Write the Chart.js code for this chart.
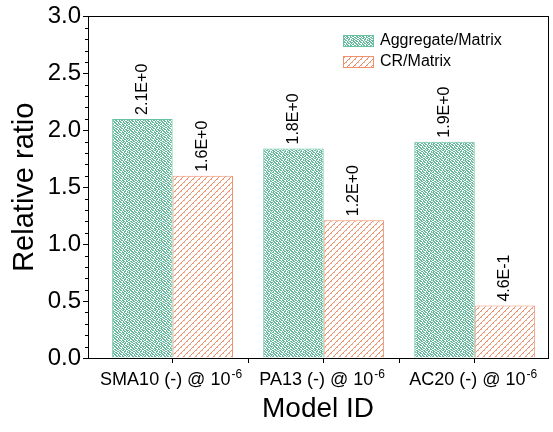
<!DOCTYPE html>
<html>
<head>
<meta charset="utf-8">
<script src="https://cdn.jsdelivr.net/npm/chart.js@4.4.0/dist/chart.umd.min.js"></script>
<style>
  html, body { margin: 0; padding: 0; background: #fff; }
  #wrap { width: 553px; height: 432px; }
</style>
</head>
<body>
<div id="wrap"><canvas id="myChart" width="553" height="432"></canvas></div>
<script>
// chart values
const categories = ['SMA10 (-) @ 10', 'PA13 (-) @ 10', 'AC20 (-) @ 10'];
const categorySup = ['-6', '-6', '-6'];
const categoryPos = [1, 2, 3];
const aggregateValues = [2.10, 1.84, 1.90];
const crValues = [1.60, 1.21, 0.46];
const aggregateLabels = ['2.1E+0', '1.8E+0', '1.9E+0'];
const crLabels = ['1.6E+0', '1.2E+0', '4.6E-1'];
const seriesNames = ['Aggregate/Matrix', 'CR/Matrix'];
const yTickValues = [0, 0.5, 1.0, 1.5, 2.0, 2.5, 3.0];
const xMinorTicks = [1.5, 2.5];

const FONT = "'Liberation Sans', Arial, sans-serif";

// speckled green fill
function makeGreenPattern() {
    const c = document.createElement('canvas');
    c.width = 16; c.height = 8;
    const g = c.getContext('2d');
    g.fillStyle = '#ffffff';
    g.fillRect(0, 0, 16, 8);
    const mask = [
        '1101100101101001',
        '0110110110010110',
        '1011001011011011',
        '0101101100101101',
        '1100110110110010',
        '0011011001011011',
        '1101100110110100',
        '0110011011001101'
    ];
    for (let y = 0; y < 8; y++) {
        for (let x = 0; x < 16; x++) {
            if (mask[y][x] === '1') {
                g.fillStyle = (x * 5 + y * 3) % 11 === 0 ? '#a7b9b1' : '#62bb9a';
                g.fillRect(x, y, 1, 1);
            }
        }
    }
    return g.createPattern(c, 'repeat');
}

// hatched orange fill
function makeOrangePattern() {
    const c = document.createElement('canvas');
    c.width = 6; c.height = 6;
    const g = c.getContext('2d');
    g.fillStyle = '#ffffff';
    g.fillRect(0, 0, 6, 6);
    for (let i = 0; i < 6; i++) {
        g.fillStyle = i === 4 ? '#cf9f90' : '#ee8c66';
        g.fillRect(i, 5 - i, 1, 1);
    }
    g.fillStyle = '#f3b49a';
    g.fillRect(1, 5, 1, 1);
    g.fillRect(4, 2, 1, 1);
    return g.createPattern(c, 'repeat');
}

const greenFill = makeGreenPattern();
const orangeFill = makeOrangePattern();

const extras = {
    id: 'extras',
    afterDatasetsDraw(chart) {
        const ctx = chart.ctx;
        const area = chart.chartArea;
        const x = chart.scales.x;
        const y = chart.scales.y;
        ctx.save();
        ctx.strokeStyle = '#000';
        ctx.lineWidth = 1;
        // frame
        ctx.strokeRect(Math.round(area.left) + 0.5, Math.round(area.top) + 0.5,
            Math.round(area.right - area.left), Math.round(area.bottom - area.top));
        ctx.beginPath();
        // minor y ticks
        for (let v = 0; v <= 30; v++) {
            if (v % 5 === 0) continue;
            const py = Math.round(y.getPixelForValue(v / 10)) + 0.5;
            ctx.moveTo(area.left - 3, py);
            ctx.lineTo(area.left, py);
        }
        // minor x ticks
        xMinorTicks.forEach(v => {
            const px = Math.round(x.getPixelForValue(v)) + 0.5;
            ctx.moveTo(px, area.bottom);
            ctx.lineTo(px, area.bottom + 5);
        });
        ctx.stroke();
        // category labels with superscript
        ctx.fillStyle = '#000';
        ctx.textBaseline = 'alphabetic';
        ctx.textAlign = 'left';
        categories.forEach((name, i) => {
            ctx.font = '18px ' + FONT;
            const w1 = ctx.measureText(name).width;
            ctx.font = '12px ' + FONT;
            const w2 = ctx.measureText(categorySup[i]).width;
            const left = x.getPixelForValue(categoryPos[i]) - (w1 + w2) / 2 - 2;
            const base = area.bottom + 27;
            ctx.font = '18px ' + FONT;
            ctx.fillText(name, left, base);
            ctx.font = '12px ' + FONT;
            ctx.fillText(categorySup[i], left + w1 + 1, base - 7);
        });
        // value labels
        ctx.font = '16px ' + FONT;
        ctx.textBaseline = 'middle';
        [aggregateLabels, crLabels].forEach((labels, di) => {
            chart.getDatasetMeta(di).data.forEach((bar, i) => {
                ctx.save();
                ctx.translate(bar.x, bar.y - 4);
                ctx.rotate(-Math.PI / 2);
                ctx.fillText(labels[i], 0, 0);
                ctx.restore();
            });
        });
        // legend
        const fills = [greenFill, orangeFill];
        const borders = ['#66c2a0', '#f0906c'];
        seriesNames.forEach((name, i) => {
            const ly = 35 + i * 21;
            ctx.fillStyle = fills[i];
            ctx.fillRect(343, ly, 30, 11);
            ctx.strokeStyle = borders[i];
            ctx.strokeRect(343.5, ly + 0.5, 30, 11);
            ctx.fillStyle = '#000';
            ctx.fillText(name, 380, ly + 6);
        });
        ctx.restore();
    }
};

const ctx = document.getElementById('myChart').getContext('2d');
let myChart = new Chart(ctx, {
    type: 'bar',
    data: {
        datasets: [{
            label: seriesNames[0],
            data: categoryPos.map((x, i) => ({ x: x, y: aggregateValues[i] })),
            backgroundColor: greenFill,
            borderColor: '#66c2a0',
            borderWidth: 1
        }, {
            label: seriesNames[1],
            data: categoryPos.map((x, i) => ({ x: x, y: crValues[i] })),
            backgroundColor: orangeFill,
            borderColor: '#f0906c',
            borderWidth: 1
        }]
    },
    options: {
        responsive: false,
        animation: false,
        categoryPercentage: 0.8,
        barPercentage: 1.0,
        layout: { padding: { top: 16, right: 5, left: 0, bottom: 0 } },
        plugins: {
            legend: { display: false },
            tooltip: { enabled: false }
        },
        scales: {
            x: {
                type: 'linear',
                min: 0.44,
                max: 3.485,
                offset: false,
                afterBuildTicks: s => { s.ticks = categoryPos.map(v => ({ value: v })); },
                afterFit: s => { s.height = 74; },
                grid: { drawOnChartArea: false, offset: false, tickLength: 5, color: '#000' },
                border: { color: '#000' },
                ticks: {
                    color: '#000',
                    padding: 4,
                    maxRotation: 0,
                    autoSkip: false,
                    font: { family: FONT, size: 18 },
                    callback: () => ''
                },
                title: {
                    display: true,
                    text: 'Model ID',
                    color: '#000',
                    padding: { top: 4, bottom: 6 },
                    font: { family: FONT, size: 28 }
                }
            },
            y: {
                min: 0,
                max: 3,
                afterBuildTicks: s => { s.ticks = yTickValues.map(v => ({ value: v })); },
                afterFit: s => { s.width = 88; },
                grid: { drawOnChartArea: false, tickLength: 5, color: '#000' },
                border: { color: '#000' },
                ticks: {
                    color: '#000',
                    padding: 2,
                    font: { family: FONT, size: 24 },
                    callback: v => v.toFixed(1)
                },
                title: {
                    display: true,
                    text: 'Relative ratio',
                    color: '#000',
                    padding: { top: 8, bottom: 0 },
                    font: { family: FONT, size: 29 }
                }
            }
        }
    },
    plugins: [extras]
});
</script>
</body>
</html>
